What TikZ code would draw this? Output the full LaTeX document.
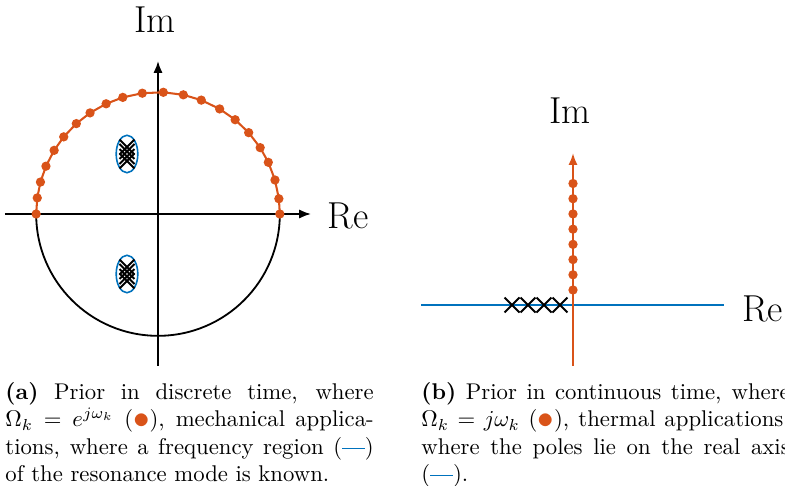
\documentclass[tikz,border=0pt]{standalone}
\usepackage{amsmath}
\usepackage{amssymb}
\usepackage{tikz}
\usetikzlibrary{arrows.meta, shapes.misc}

\definecolor{mblue}{RGB}{0,114,189}
\definecolor{morange}{RGB}{217,83,25}
\newcommand{\polemark}{\textcolor{morange}{\raisebox{-0.9pt}{\scalebox{1.45}{$\bullet$}}}}
\newcommand{\regionmark}{\textcolor{mblue}{\rule[0.55ex]{10pt}{0.45pt}}}

\begin{document}
\begin{tikzpicture}[>={Latex[length=5.2pt,width=4pt]},
    axis/.style={line width=0.8pt},
    prior/.style={morange, line width=0.9pt},
    region/.style={mblue, line width=0.7pt},
    pole/.style={cross out, draw, line width=0.9pt, minimum size=0.2cm, inner sep=0pt},
    lbl/.style={font=\fontsize{16.5}{20}\selectfont, inner sep=0pt},
    capt/.style={text width=5.69cm, align=justify, inner sep=0pt, anchor=north west}]
    \useasboundingbox (-2.441,-4.187) rectangle (9.686,3.306);

    % (a) discrete time
    \coordinate (O1) at (0,0);
    \coordinate (xl) at (-2.364,0);
    \coordinate (xr) at (2.364,0);
    \coordinate (yb) at (0,-2.348);
    \coordinate (yt) at (0,2.364);
    \draw[axis,->] (xl) -- (xr);
    \draw[axis,->] (yb) -- (yt);
    \draw[axis] (180:1.882) arc (180:360:1.882);

    % frequencies on the unit circle
    \foreach \a [count=\i] in {0,7.2,16.2,25.1,33.0,41.9,50.7,59.6,69.2,78.0,87.5,
                               97.4,106.8,115.2,123.9,132.1,140.7,148.5,156.9,164.8,172.4,180}
        \coordinate (w\i) at (\a:1.882);
    \draw[prior] (w1) \foreach \i in {2,...,22} { -- (w\i) };
    \foreach \i in {1,...,22}
        \fill[morange] (w\i) circle (0.072);

    % poles and their region
    \coordinate (P1) at (-0.479,0.927);
    \coordinate (P2) at (-0.479,-0.927);
    \draw[region] (P1) ellipse (0.167 and 0.289);
    \draw[region] (P2) ellipse (0.167 and 0.289);
    \foreach \dy [count=\i] in {-0.108,-0.039,0.039,0.108} {
        \node[pole] (pa\i) at ([yshift=\dy cm]P1) {};
        \node[pole] (pb\i) at ([yshift=\dy cm]P2) {};
    }

    \node[lbl] (im1) at (-0.05,3.005) {Im};
    \node[lbl] (re1) at (2.934,-0.023) {Re};

    % (b) continuous time
    \coordinate (O2) at (6.411,-1.406);
    \coordinate (rl) at (4.063,-1.406);
    \coordinate (rr) at (8.744,-1.406);
    \coordinate (ib) at (6.411,-2.348);
    \coordinate (it) at (6.411,0.942);
    \draw[region] (rl) -- (rr);
    \draw[prior,->] (ib) -- (it);
    \foreach \k in {0,...,7}
        \fill[morange] ([yshift={0.232cm+0.235cm*\k}]O2) circle (0.072);
    \foreach \k in {0,...,3}
        \node[pole] (pc\k) at ([xshift={-0.201cm-0.247cm*\k}]O2) {};

    \node[lbl] (im2) at (6.365,1.591) {Im};
    \node[lbl] (re2) at (9.339,-1.475) {Re};

    % captions
    \node[capt] (capa) at (-2.364,-2.595) {\textbf{(a)} Prior in discrete time, where
        $\Omega_k = e^{j\omega_k}$ (\polemark), mechanical applications, where a
        frequency region (\regionmark) of the resonance mode is known.};
    \node[capt] (capb) at (4.063,-2.595) {\textbf{(b)} Prior in continuous time, where
        $\Omega_k = j\omega_k$ (\polemark), thermal applications, where the poles lie
        on the real axis (\regionmark).};
\end{tikzpicture}
\end{document}
